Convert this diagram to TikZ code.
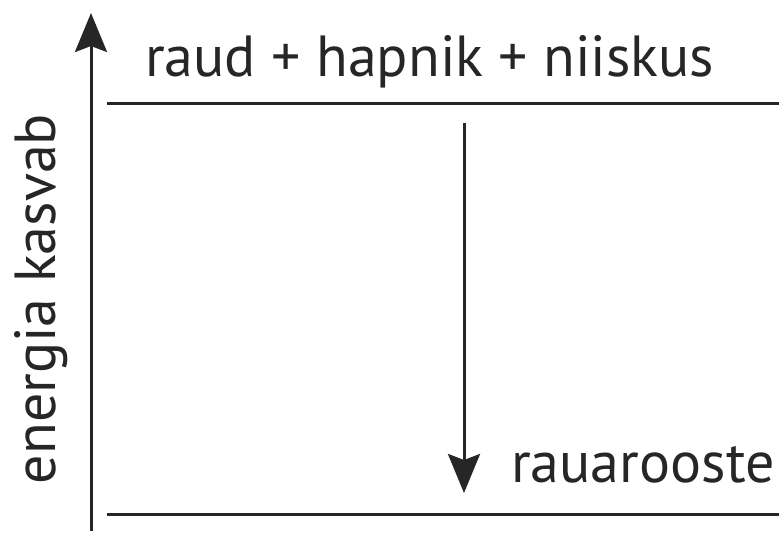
\documentclass[tikz,border=0pt]{standalone}
\usepackage{fontspec}
\setmainfont{PT Sans}
\usetikzlibrary{arrows.meta}
\tikzset{
  lvl/.style={line width=3pt, draw=black!85},
  ax/.style={line width=3pt, draw=black!85, -{Stealth[length=39pt,width=32pt,inset=6pt]}},
  lbl/.style={inner sep=0pt, font=\fontsize{58}{60}\selectfont, text=black!85}
}
\begin{document}
\begin{tikzpicture}[x=1pt,y=-1pt]
\useasboundingbox (0,0) rectangle (779,533);
\coordinate (axb) at (91,531);
\coordinate (axt) at (91,13);
\draw[ax] (axb) -- (axt);
\coordinate (t1) at (107,103);
\coordinate (t2) at (779,103);
\draw[lvl] (t1) -- (t2);
\coordinate (b1) at (107,514);
\coordinate (b2) at (779,514);
\draw[lvl] (b1) -- (b2);
\coordinate (ds) at (464,123);
\coordinate (de) at (464,493);
\draw[ax] (ds) -- (de);
\node[lbl, anchor=base west] (top) at (145,76) {raud + hapnik + niiskus};
\node[lbl, anchor=base west] (bot) at (511,482) {rauarooste};
\node[lbl, rotate=90, anchor=base] (en) at (55,299) {energia kasvab};
\end{tikzpicture}
\end{document}
